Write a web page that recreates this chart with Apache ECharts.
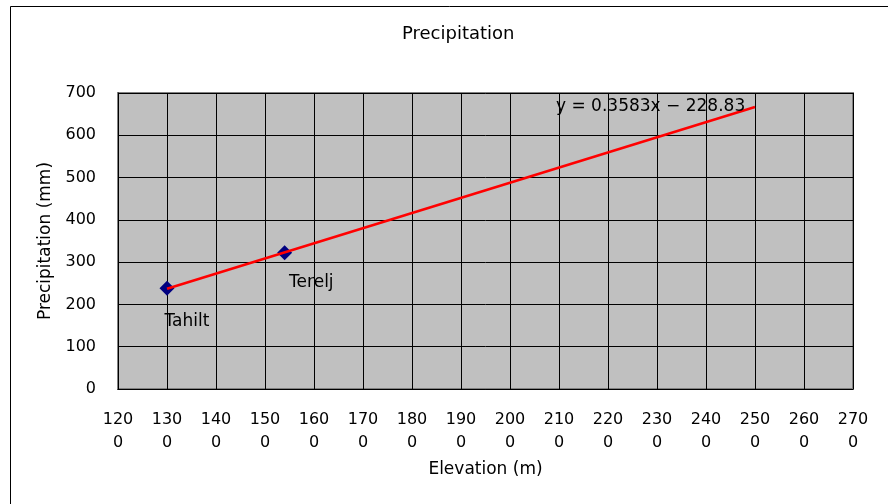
<!DOCTYPE html>
<html>
<head>
<meta charset="utf-8">
<script src="https://cdn.jsdelivr.net/npm/echarts@6/dist/echarts.min.js"></script>
<style>
  html, body { margin: 0; padding: 0; background: #fff; }
  #chart { width: 888px; height: 504px; }
</style>
</head>
<body>
<div id="chart"></div>
<script>
// Station observations: elevation (m) vs annual precipitation (mm)
const stationNames = ['Tahilt', 'Terelj'];
const elevations = [1300, 1540];
const precipitation = [238, 322];

// Linear fit y = slope * x + intercept, drawn across this elevation span
const trendSlope = 0.3583;
const trendIntercept = -228.83;
const trendRange = [1300, 2500];

// Axis ranges
const xMin = 1200, xMax = 2700, xStep = 100;
const yMin = 0, yMax = 700, yStep = 100;

const FONT = 'DejaVu Sans';

const points = elevations.map((x, i) => ({
  value: [x, precipitation[i]],
  name: stationNames[i]
}));
const trendPoints = trendRange.map(x => [x, +(trendSlope * x + trendIntercept).toFixed(2)]);

// label offsets relative to the marker box
const labelPos = { Tahilt: [5, 41], Terelj: [12, 37] };
points.forEach(p => {
  p.label = { position: labelPos[p.name] };
});

const chart = echarts.init(document.getElementById('chart'), null, { renderer: 'canvas' });

chart.setOption({
  animation: false,
  backgroundColor: '#ffffff',
  title: {
    text: 'Precipitation',
    left: 397,
    top: 20,
    textStyle: { fontFamily: FONT, fontSize: 18, fontWeight: 'normal', color: '#000' }
  },
  graphic: [
    {
      type: 'rect',
      left: 8, top: 4,
      shape: { width: 900, height: 520 },
      style: { fill: 'none', stroke: '#000', lineWidth: 1 },
      silent: true,
      z: 100
    },
    {
      type: 'text',
      left: 556, top: 98,
      style: {
        text: 'y = 0.3583x \u2212 228.83',
        font: '17px "' + FONT + '"',
        fill: '#000'
      },
      z: 50
    }
  ],
  grid: {
    left: 118, top: 93, right: 35, bottom: 115,
    show: true,
    backgroundColor: '#c0c0c0',
    borderColor: '#808080',
    borderWidth: 2
  },
  xAxis: {
    type: 'value',
    min: xMin, max: xMax, interval: xStep,
    name: 'Elevation (m)',
    nameLocation: 'middle',
    nameGap: 72,
    nameTextStyle: { fontFamily: FONT, fontSize: 17, color: '#000' },
    axisLine: { show: true, lineStyle: { color: '#000', width: 1 } },
    axisTick: { show: false },
    axisLabel: {
      margin: 19,
      fontFamily: FONT, fontSize: 16, color: '#000',
      lineHeight: 23,
      formatter: v => { const s = String(v); return s.slice(0, 3) + '\n' + s.slice(3); }
    },
    splitLine: { show: true, lineStyle: { color: '#000', width: 1 } }
  },
  yAxis: {
    type: 'value',
    min: yMin, max: yMax, interval: yStep,
    name: 'Precipitation (mm)',
    nameLocation: 'middle',
    nameGap: 64,
    nameTextStyle: { fontFamily: FONT, fontSize: 17, color: '#000' },
    axisLine: { show: true, lineStyle: { color: '#000', width: 1 } },
    axisTick: { show: true, inside: true, length: 4, lineStyle: { color: '#000' } },
    axisLabel: { margin: 22, fontFamily: FONT, fontSize: 16, color: '#000' },
    splitLine: { show: true, lineStyle: { color: '#000', width: 1 } }
  },
  series: [
    {
      type: 'line',
      data: trendPoints,
      showSymbol: false,
      symbol: 'none',
      lineStyle: { color: '#ff0000', width: 2.5 },
      z: 3
    },
    {
      type: 'scatter',
      data: points,
      symbol: 'diamond',
      symbolSize: 15,
      itemStyle: { color: '#000080', opacity: 1 },
      label: {
        show: true,
        formatter: p => p.name,
        align: 'left',
        verticalAlign: 'middle',
        fontFamily: FONT, fontSize: 17, color: '#000',
        textBorderWidth: 0
      },
      z: 2
    }
  ]
});
</script>
</body>
</html>
